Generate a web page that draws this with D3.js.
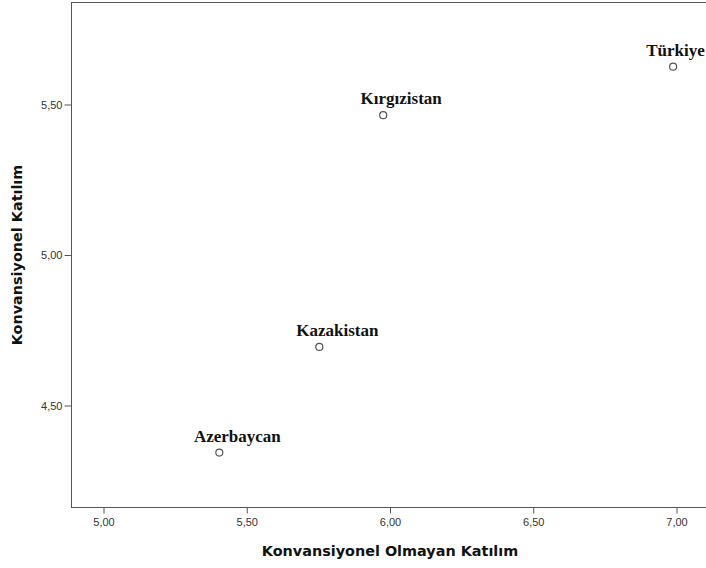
<!DOCTYPE html>
<html><head><meta charset="utf-8">
<script src="https://cdn.jsdelivr.net/npm/d3@7"></script>
<style>body{margin:0;background:#fff;overflow:hidden}svg{display:block}</style>
</head><body>
<script>
const countries = ["Azerbaycan", "Kazakistan", "Kırgızistan", "Türkiye"];
const nonConventional = [5.406, 5.755, 5.978, 6.99];
const conventional = [4.342, 4.693, 5.463, 5.624];
const xTicks = [5.0, 5.5, 6.0, 6.5, 7.0];
const yTicks = [4.5, 5.0, 5.5];
const xTitle = "Konvansiyonel Olmayan Katılım";
const yTitle = "Konvansiyonel Katılım";

const W = 706, H = 568;
const m = {left: 71, top: 2, right: 712, bottom: 507};
const svg = d3.select("body").append("svg").attr("width", W).attr("height", H);

const x = d3.scaleLinear().domain([5.0, 7.0]).range([103, 676]);
const y = d3.scaleLinear().domain([4.5, 5.5]).range([405, 104]);

const fmt = d => d3.format(".2f")(d).replace(".", ",");

svg.append("rect").attr("x", m.left + 0.5).attr("y", m.top + 0.5)
  .attr("width", m.right - m.left).attr("height", m.bottom - m.top)
  .attr("fill", "none").attr("stroke", "#555").attr("stroke-width", 1);

const xAxis = svg.append("g").attr("transform", `translate(0.5,${m.bottom + 0.5})`)
  .call(d3.axisBottom(x).tickValues(xTicks).tickFormat(fmt).tickSize(6).tickPadding(5));
const yAxis = svg.append("g").attr("transform", `translate(${m.left + 0.5},0.5)`)
  .call(d3.axisLeft(y).tickValues(yTicks).tickFormat(fmt).tickSize(7).tickPadding(2));
[xAxis, yAxis].forEach(a => {
  a.select(".domain").remove();
  a.selectAll(".tick line").attr("stroke", "#555");
  a.selectAll(".tick text").attr("fill", "#333").style("font-family", "'Liberation Sans', Arial, sans-serif").style("font-size", "11px");
});

const pts = svg.append("g");
countries.forEach((c, i) => {
  const cx = x(nonConventional[i]), cy = y(conventional[i]);
  pts.append("circle").attr("cx", cx).attr("cy", cy)
    .attr("r", 3.5).attr("fill", "#fff").attr("stroke", "#555").attr("stroke-width", 1.2);
  const t = pts.append("text").attr("x", cx + 18).attr("y", cy - 11)
    .attr("text-anchor", "middle")
    .style("font-family", "'Liberation Serif', 'Times New Roman', serif")
    .style("font-weight", "bold").style("font-size", "17px").attr("fill", "#111").text(c);
  const bb = t.node().getBBox();
  if (bb.x + bb.width > W - 1) t.attr("x", W - 1 - bb.width / 2);
});

const titleFont = "'DejaVu Sans', Verdana, sans-serif";
svg.append("text").attr("x", 390).attr("y", 556).attr("text-anchor", "middle")
  .style("font-family", titleFont).style("font-weight", "bold")
  .style("font-size", "14.4px").attr("fill", "#111").text(xTitle);
svg.append("text").attr("transform", "translate(22,255) rotate(-90)").attr("text-anchor", "middle")
  .style("font-family", titleFont).style("font-weight", "bold")
  .style("font-size", "14.4px").attr("fill", "#111").text(yTitle);
</script>
</body></html>
